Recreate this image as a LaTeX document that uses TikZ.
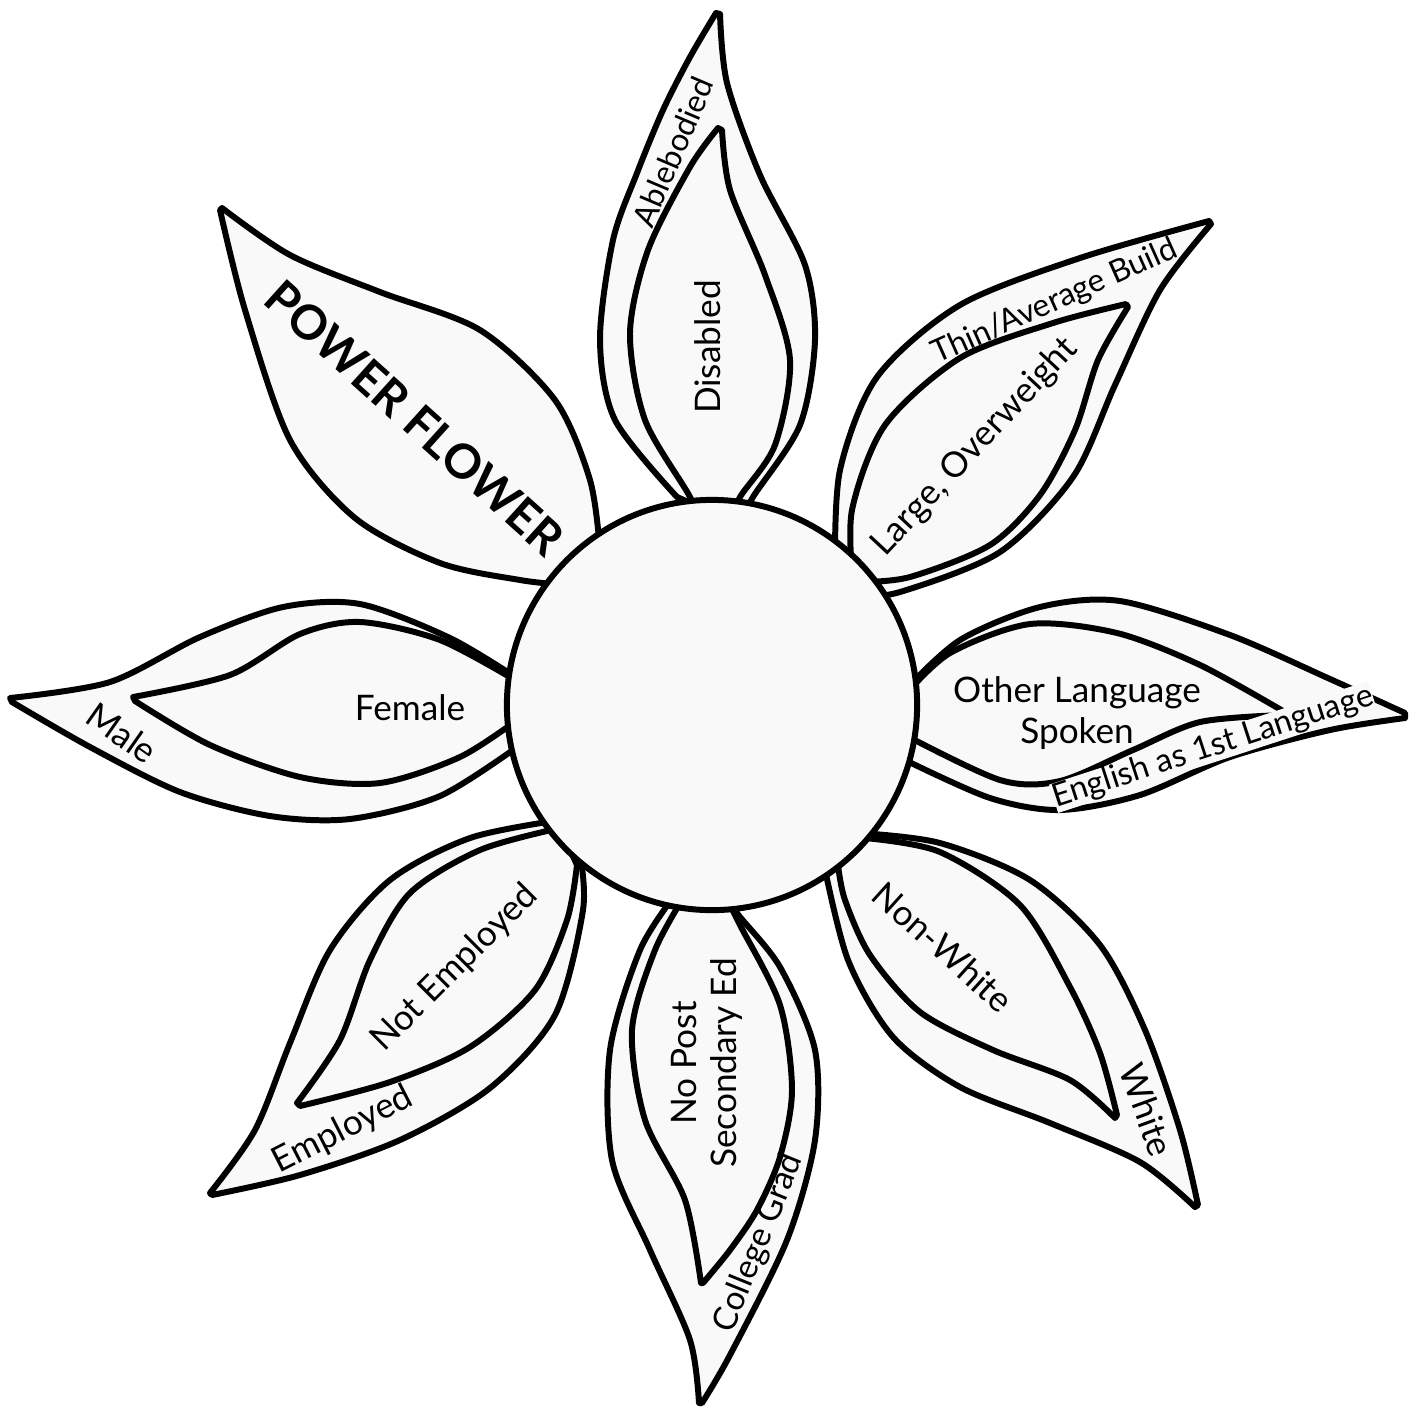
\documentclass[tikz,border=0pt]{standalone}
\usepackage{fontspec}
\setmainfont{Lato}
\definecolor{petalgray}{RGB}{249,249,249}

\begin{document}
\begin{tikzpicture}[x=0.01cm,y=-0.01cm,
      petal/.style={draw=black,fill=petalgray,line width=1.7pt,line join=round},
      lbl/.style={font=\fontsize{10}{11.5}\selectfont,text=black,inner sep=1pt},
      small/.style={lbl,font=\fontsize{9.2}{11}\selectfont}]
  \useasboundingbox (0,0) rectangle (1424,1408);
  % top
  \draw[petal] plot[smooth] coordinates {(677,497) (615,420) (600,340) (613,240) (637,173) (663,110) (690,57) (716,13)}
    -- plot[smooth] coordinates {(720,14) (727,83) (760,175) (805,265) (815,340) (800,425) (753,497) (740,525)} -- cycle;
  \draw[petal] plot[smooth] coordinates {(695,520) (690,497) (645,420) (630,333) (648,250) (690,167) (718,128)}
    -- plot[smooth] coordinates {(722,130) (730,190) (765,275) (790,360) (775,445) (740,497) (732,520)} -- cycle;
  % upper right
  \draw[petal] plot[smooth] coordinates {(835,567) (840,470) (877,377) (960,305) (1080,258) (1209,221)}
    -- plot[smooth] coordinates {(1211,224) (1160,290) (1115,385) (1073,477) (1000,552) (900,592) (853,597)} -- cycle;
  \draw[petal] plot[smooth] coordinates {(853,583) (852,510) (885,425) (960,358) (1053,323) (1126,304)}
    -- plot[smooth] coordinates {(1128,307) (1098,360) (1075,430) (1040,495) (990,545) (910,577) (860,582)} -- cycle;
  % right
  \draw[petal] plot[smooth] coordinates {(905,690) (960,640) (1040,607) (1120,601) (1230,635) (1330,679) (1405,713)}
    -- plot[smooth] coordinates {(1405,718) (1330,730) (1230,757) (1140,795) (1060,810) (990,798) (905,760)} -- cycle;
  \draw[petal] plot[smooth] coordinates {(905,695) (950,653) (1030,624) (1117,633) (1200,665) (1283,711)}
    -- plot[smooth] coordinates {(1283,715) (1200,722) (1133,750) (1060,781) (1000,780) (905,735)} -- cycle;
  % lower right
  \draw[petal] plot[smooth] coordinates {(860,833) (940,843) (1030,880) (1100,945) (1145,1030) (1180,1130) (1198,1205)}
    -- plot[smooth] coordinates {(1195,1207) (1140,1162) (1050,1123) (960,1087) (893,1037) (848,960) (823,860)} -- cycle;
  \draw[petal] plot[smooth] coordinates {(865,838) (940,852) (1020,905) (1070,987) (1100,1053) (1117,1115)}
    -- plot[smooth] coordinates {(1115,1118) (1070,1080) (993,1050) (920,1012) (870,955) (845,900) (838,865)} -- cycle;
  % bottom
  \draw[petal] plot[smooth] coordinates {(675,895) (640,950) (610,1050) (612,1160) (650,1250) (690,1340) (699,1403)}
    -- plot[smooth] coordinates {(702,1403) (730,1355) (787,1240) (815,1140) (815,1050) (780,967) (737,913) (730,895)} -- cycle;
  \draw[petal] plot[smooth] coordinates {(685,895) (655,950) (632,1030) (645,1120) (685,1200) (701,1283)}
    -- plot[smooth] coordinates {(703,1283) (730,1250) (757,1210) (780,1157) (792,1090) (780,1005) (740,925) (725,895)} -- cycle;
  % lower left
  \draw[petal] plot[smooth] coordinates {(560,820) (470,838) (390,880) (330,950) (290,1043) (255,1130) (210,1193)}
    -- plot[smooth] coordinates {(212,1195) (300,1175) (400,1140) (490,1088) (555,1015) (583,910) (580,855)} -- cycle;
  \draw[petal] plot[smooth] coordinates {(560,828) (480,850) (410,893) (370,960) (340,1040) (297,1103)}
    -- plot[smooth] coordinates {(300,1106) (390,1082) (470,1047) (535,990) (567,920) (577,865)} -- cycle;
  % left
  \draw[petal] plot[smooth] coordinates {(520,680) (450,638) (360,604) (283,607) (200,637) (110,682) (10,698)}
    -- plot[smooth] coordinates {(12,702) (90,747) (180,792) (270,816) (350,819) (440,796) (520,745)} -- cycle;
  \draw[petal] plot[smooth] coordinates {(520,683) (440,640) (360,622) (300,634) (230,675) (133,697)}
    -- plot[smooth] coordinates {(135,701) (210,745) (300,777) (380,783) (460,757) (520,718)} -- cycle;
  % upper left
  \draw[petal] plot[smooth] coordinates {(600,550) (590,480) (555,400) (480,330) (380,292) (290,255) (222,208)}
    -- plot[smooth] coordinates {(220,210) (245,310) (290,440) (355,518) (440,563) (520,580) (565,585)} -- cycle;

  \node[petal,circle,minimum size=4.1cm,inner sep=0pt] (hub) at (712,705) {};

  \node[small,rotate=67,font=\fontsize{9}{11}\selectfont] (able) at (673,152) {Ablebodied};
  \node[lbl,rotate=90] (disab) at (708,347) {Disabled};
  \node[small,rotate=24,font=\fontsize{9}{11}\selectfont] (thin) at (1055,302) {Thin/Average Build};
  \node[lbl,rotate=47] (large) at (975,447) {Large, Overweight};
  \node[lbl,align=center] (other) at (1077,713) {Other Language\\Spoken};
  \node[small,rotate=18,fill=petalgray,inner sep=0pt] (engl) at (1213,747) {English as 1st Language};
  \node[lbl,rotate=-42] (nonwh) at (943,947) {Non-White};
  \node[lbl,rotate=-70] (white) at (1147,1110) {White};
  \node[lbl,rotate=90,align=center] (nopost) at (707,1063) {No Post\\Secondary Ed};
  \node[small,rotate=68,font=\fontsize{9.5}{11}\selectfont] (coll) at (759,1243) {College Grad};
  \node[lbl,rotate=45] (notemp) at (455,968) {Not Employed};
  \node[lbl,rotate=27] (emp) at (343,1130) {Employed};
  \node[lbl,rotate=-35] (male) at (122,733) {Male};
  \node[lbl] (female) at (410,708) {Female};
  \node[lbl,rotate=-42,font=\fontsize{13.5}{16}\selectfont\bfseries] (power) at (415,418) {POWER FLOWER};
\end{tikzpicture}
\end{document}
